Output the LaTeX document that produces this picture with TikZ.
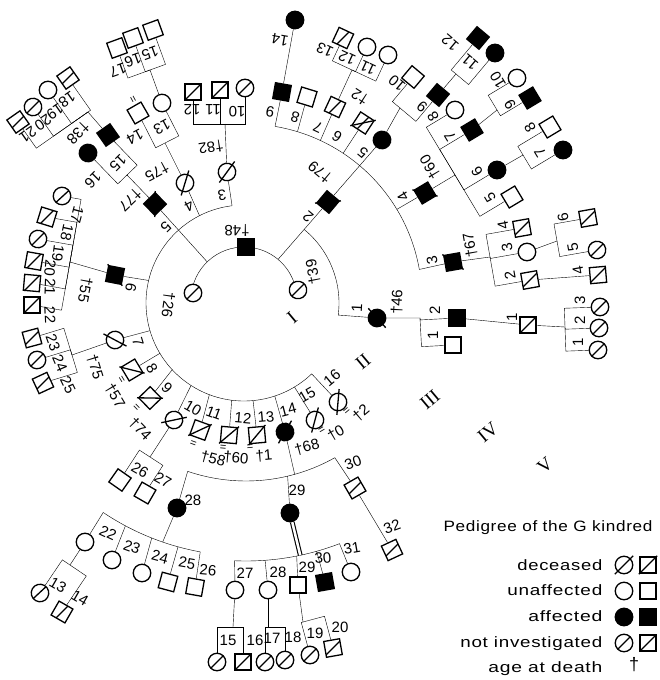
\documentclass[tikz,border=0pt]{standalone}
\usepackage{fontspec}
\usepackage{graphicx}
\setmainfont{Liberation Sans}
\newfontfamily\romfont{Liberation Serif}
\newfontfamily\legfont[LetterSpace=4]{Liberation Sans}
\usetikzlibrary{calc,backgrounds}
\begin{document}
\begin{tikzpicture}[x=1pt,y=1pt,line width=1.3pt]
\useasboundingbox (0,0) rectangle (659,-680);
\tikzset{
 sy/.style={draw, inner sep=0pt, fill=white, line width=1.3pt},
 sq/.style={sy, rectangle, minimum size=16pt},
 ci/.style={sy, circle, minimum size=17.5pt},
 aff/.style={fill=black},
 ni/.style={path picture={\draw[line width=1.3pt] (path picture bounding box.south west) -- (path picture bounding box.north east);}},
 lab/.style={font=\fontsize{15}{15}\selectfont, inner sep=0pt},
 mk/.style={font=\fontsize{11}{11}\selectfont, inner sep=0pt},
 rom/.style={font=\romfont\fontsize{19}{19}\selectfont, inner sep=0pt, rotate=40},
 leg/.style={inner sep=0pt},
}
\newcommand\legtext[2]{\resizebox{#1pt}{\height}{\legfont\fontsize{15}{15}\selectfont #2}}
\newcommand\dec[2]{\draw ($(#1)+({#2+45}:13)$) -- ($(#1)+({#2+225}:13)$);}
\newcommand\sib[3]{%
  \coordinate (sibA) at #1;
  \coordinate (sibB) at ($#1+(#2:10)$);
  \foreach \ch in {#3}{\draw (sibA) -- ($(sibA)!(\ch)!(sibB)$) -- (\ch);}}
\coordinate (O) at (246,-300);
\coordinate (OL) at (244,-303);
\coordinate (OI) at (244,-300);
% ---------- generation I
\node[sq,aff,rotate=180] (a48) at (246,-247) {};
\node[ci,ni,rotate=295] (a26) at (193,-293) {};
\node[ci,ni,rotate=101] (a39) at (298,-290) {};
% ---------- generation II
\node[ci,rotate=189] (b3) at (227,-172) {};
\node[ci,rotate=208] (b4) at (185,-183) {};
\node[sq,aff,rotate=224] (b5) at (155,-204) {};
\node[sq,aff,rotate=259] (b6) at (115,-275) {};
\node[ci,rotate=287] (b7) at (115,-340) {};
\node[sq,rotate=301] (b8) at (132,-370) {};
\node[sq,rotate=314] (b9) at (150,-398) {};
\node[ci,rotate=327] (b10) at (174,-420) {};
\node[sq,rotate=340] (b11) at (200,-430) {};
\node[sq,rotate=355] (b12) at (229,-435) {};
\node[sq,rotate=5] (b13) at (257,-435) {};
\node[ci,aff,rotate=15] (b14) at (285,-432) {};
\node[ci,rotate=30] (b15) at (315,-420) {};
\node[ci,rotate=40] (b16) at (338,-402) {};
\node[sq,aff,rotate=140] (b2) at (328,-202) {};
\node[ci,aff,rotate=87] (b1) at (377,-318) {};
% ---------- generation III
\node[sq,aff,rotate=170] (c9) at (282,-92) {};
\node[sq,rotate=163] (c8) at (307,-97) {};
\node[sq,ni,rotate=155] (c7) at (335,-107) {};
\node[sq,ni,rotate=147] (c6) at (363,-123) {};
\node[ci,aff,rotate=140] (c5) at (382,-140) {};
\node[sq,aff,rotate=121] (c4) at (425,-193) {};
\node[sq,aff,rotate=100] (c3) at (453,-262) {};
\node[sq,aff,rotate=90] (c2) at (457,-318) {};
\node[sq,rotate=90] (c1) at (453,-345) {};
\node[ci,ni,rotate=180] (c10) at (245,-88) {};
\node[sq,ni,rotate=180] (c11) at (220,-90) {};
\node[sq,ni,rotate=180] (c12) at (193,-92) {};
\node[ci,rotate=205] (c13) at (162,-103) {};
\node[sq,rotate=210] (c14) at (138,-113) {};
\node[sq,aff,rotate=215] (c15) at (108,-135) {};
\node[ci,aff,rotate=230] (c16) at (88,-153) {};
\node[ci,ni,rotate=250] (c17) at (62,-196) {};
\node[sq,ni,rotate=253] (c18) at (47,-217) {};
\node[ci,ni,rotate=256] (c19) at (38,-239) {};
\node[sq,ni,rotate=260] (c20) at (34,-261) {};
\node[sq,ni,rotate=265] (c21) at (32,-283) {};
\node[sq,ni,rotate=270] (c22) at (32,-305) {};
\node[sq,ni,rotate=285] (c23) at (32,-338) {};
\node[ci,ni,rotate=290] (c24) at (37,-360) {};
\node[sq,ni,rotate=295] (c25) at (43,-383) {};
\node[sq,rotate=325] (c26) at (120,-480) {};
\node[sq,rotate=330] (c27) at (145,-493) {};
\node[ci,aff] (c28) at (177,-508) {};
\node[ci,aff] (c29) at (290,-513) {};
\node[sq,ni,rotate=30] (c30) at (355,-488) {};
% ---------- generation IV
\node[ci,aff] (d14) at (295,-20) {};
\node[sq,ni,rotate=155] (d13) at (343,-38) {};
\node[ci] (d12) at (367,-47) {};
\node[ci] (d11) at (388,-55) {};
\node[sq,rotate=140] (d10) at (413,-77) {};
\node[sq,aff,rotate=140] (d9) at (438,-95) {};
\node[ci] (d8) at (455,-110) {};
\node[sq,aff,rotate=121] (d7) at (472,-130) {};
\node[ci,aff] (d6) at (497,-170) {};
\node[sq,rotate=121] (d5) at (512,-197) {};
\node[sq,ni,rotate=100] (d4) at (522,-228) {};
\node[ci] (d3) at (527,-252) {};
\node[sq,ni,rotate=100] (d2) at (530,-280) {};
\node[sq,ni,rotate=90] (d1) at (528,-325) {};
\node[sq,rotate=200] (d15) at (153,-30) {};
\node[sq,rotate=200] (d16) at (133,-38) {};
\node[sq,rotate=200] (d17) at (117,-48) {};
\node[sq,ni,rotate=215] (d18) at (68,-78) {};
\node[ci] (d19) at (48,-90) {};
\node[ci,ni,rotate=215] (d20) at (33,-107) {};
\node[sq,ni,rotate=215] (d21) at (18,-122) {};
\node[ci] (d22) at (85,-542) {};
\node[ci] (d23) at (112,-560) {};
\node[ci] (d24) at (142,-573) {};
\node[sq,rotate=345] (d25) at (168,-582) {};
\node[sq,rotate=350] (d26) at (195,-587) {};
\node[ci] (d27) at (235,-590) {};
\node[ci] (d28) at (268,-590) {};
\node[sq] (d29) at (298,-585) {};
\node[sq,aff,rotate=10] (d30) at (325,-582) {};
\node[ci] (d31) at (351,-572) {};
\node[sq,ni,rotate=25] (d32) at (392,-550) {};
% ---------- generation V
\node[sq,aff,rotate=140] (e12) at (478,-38) {};
\node[ci,aff] (e11) at (495,-53) {};
\node[ci] (e10) at (517,-78) {};
\node[sq,aff,rotate=121] (e9) at (530,-98) {};
\node[sq,rotate=121] (e8) at (550,-127) {};
\node[ci,aff] (e7) at (563,-150) {};
\node[sq,ni,rotate=100] (e6) at (588,-218) {};
\node[ci,ni,rotate=100] (e5) at (597,-250) {};
\node[sq,ni,rotate=95] (e4) at (598,-275) {};
\node[ci,ni,rotate=90] (e3) at (600,-307) {};
\node[ci,ni,rotate=90] (e2) at (599,-328) {};
\node[ci,ni,rotate=90] (e1) at (598,-350) {};
\node[ci,ni,rotate=330] (e13) at (40,-593) {};
\node[sq,ni,rotate=330] (e14) at (62,-612) {};
\node[ci,ni] (e15) at (217,-662) {};
\node[sq,ni] (e16) at (243,-662) {};
\node[ci,ni] (e17) at (265,-662) {};
\node[ci,ni] (e18) at (285,-660) {};
\node[ci,ni] (e19) at (310,-655) {};
\node[sq,ni,rotate=10] (e20) at (333,-648) {};
% ---------- connectors
\begin{scope}[on background layer]
\fill[white] (0,0) rectangle (659,-680);
\draw ($(OI)+(172:53)$) arc[start angle=172, end angle=11, radius=53];
\draw ($(OI)+(134:53)$) -- (b5);
\draw ($(OI)+(50:53)$) -- (b2);
\draw ($(OL)+(97:98)$) arc[start angle=97, end angle=313.7, radius=98] -- (b16);
\draw ($(OL)+(97:98)$) -- (b3);
\draw ($(OL)+(117:98)$) -- (b4);
\draw ($(OL)+(166.7:98)$) -- (b6);
\draw ($(OL)+(196.4:98)$) -- (b7);
\draw ($(OL)+(210.9:98)$) -- (b8);
\draw ($(OL)+(222.9:98)$) -- (b9);
\draw ($(OL)+(237.3:98)$) -- (b10);
\draw ($(OL)+(249.3:98)$) -- (b11);
\draw ($(OL)+(262.8:98)$) -- (b12);
\draw ($(OL)+(275.3:98)$) -- (b13);
\draw ($(OL)+(288.3:98)$) -- (b14);
\draw ($(OL)+(301:98)$) -- (b15);
\draw ($(OL)+(50.8:95)$) arc[start angle=50.8, end angle=-7.3, radius=95] -- (b1);
% gen III of 2
\draw ($(O)+(80.5:176)$) arc[start angle=80.5, end angle=10, radius=176] -- (c3);
\draw ($(O)+(80.5:176)$) -- (c9);
\draw ($(O)+(73:176)$) -- (c8);
\draw ($(O)+(65:176)$) -- (c7);
\draw ($(O)+(56.5:176)$) -- (c6);
\draw ($(O)+(31:176)$) -- (c4);
\draw (b2) -- (c5);
\draw (c9) -- (d14);
\draw (c7) -- (352,-70); \sib{(352,-70)}{-25}{d13,d12,d11}
\draw (c5) -- (400,-108); \sib{(400,-108)}{-40}{d10,d9}
\draw (d9) -- (456,-74); \sib{(456,-74)}{-40}{e12,e11}
\draw (c4) -- (455,-175); \sib{(455,-175)}{-59}{d8,d7,d6,d5}
\draw (d7) -- (497,-110); \sib{(497,-110)}{-59}{e10,e9}
\draw (d6) -- (523,-155); \sib{(523,-155)}{-59}{e8,e7}
\draw (c3) -- (490,-257); \sib{(490,-257)}{-80}{d4,d3,d2}
\draw (d3) -- (557,-241); \sib{(557,-241)}{-80}{e6,e5}
\draw (d2) -- (e4);
% gen III of 1
\draw (b1) -- (420,-318); \sib{(420,-318)}{-87}{c2,c1}
\draw (c2) -- (d1);
\draw (d1) -- (565,-327); \sib{(565,-327)}{-88}{e3,e2,e1}
% left side
\draw (b3) -- (225,-124); \sib{(225,-124)}{0}{c12,c11,c10}
\draw (b4) -- (165,-143); \sib{(165,-143)}{27}{c13,c14}
\draw (c13) -- (150,-70); \sib{(150,-70)}{20}{d15,d16,d17}
\draw (b5) -- (127,-175); \sib{(127,-175)}{44}{c15,c16}
\draw (c15) -- (88,-112); \sib{(88,-112)}{35}{d18,d19,d20,d21}
\draw (b6) -- (70,-262); \sib{(70,-262)}{80}{c17,c18,c19,c20,c21,c22}
\draw (b7) -- (72,-355); \sib{(72,-355)}{107}{c23,c24,c25}
\draw (b10) -- (150,-457); \sib{(150,-457)}{147}{c26,c27}
% gen III of 14
\draw ($(O)+(251.2:181)$) arc[start angle=251.2, end angle=299.4, radius=181] -- (c30);
\draw ($(O)+(251.2:181)$) -- (c28);
\draw ($(O)+(283.3:181)$) -- (c29);
\draw (b14) -- ($(O)+(285.6:181)$);
\draw (c30) -- (d32);
% gen IV of 28
\draw ($(O)+(236.1:256)$) arc[start angle=236.1, end angle=259.7, radius=256] -- (d26);
\draw (c28) -- ($(O)+(251:256)$);
\draw ($(O)+(236.1:256)$) -- (d22);
\draw ($(O)+(241.9:256)$) -- (d23);
\draw ($(O)+(248.4:256)$) -- (d24);
\draw ($(O)+(254.6:256)$) -- (d25);
\draw (d22) -- (70,-565); \sib{(70,-565)}{146}{e13,e14}
% gen IV of 29
\draw ($(O)+(267.5:261)$) arc[start angle=267.5, end angle=291, radius=261] -- (d31);
\draw[double, double distance=2.5pt, line width=1.1pt] (c29) -- ($(O)+(282:261)$);
\draw ($(O)+(267.5:261)$) -- (d27);
\draw ($(O)+(274.2:261)$) -- (d28);
\draw ($(O)+(281.2:261)$) -- (d29);
\draw ($(O)+(285.7:261)$) -- (d30);
\draw (d27) -- (233,-627); \sib{(233,-627)}{0}{e15,e16}
\draw (d28) -- (268,-627); \sib{(268,-627)}{0}{e17,e18}
\draw (d29) -- (303,-622); \sib{(303,-622)}{15}{e19,e20}
\end{scope}
% ---------- deceased slashes
\dec{b3}{189} \dec{b4}{208} \dec{b5}{224} \dec{b6}{259} \dec{b7}{287}
\dec{b8}{301} \dec{b9}{314} \dec{b10}{327} \dec{b11}{340} \dec{b12}{355}
\dec{b13}{5} \dec{b14}{15} \dec{b15}{30} \dec{b16}{40} \dec{b2}{140} \dec{b1}{87}
\dec{c6}{147} \dec{c4}{121} \dec{c3}{100}
% ---------- labels
\node[lab,rotate=180] at (237,-230) {†48};
\node[lab,rotate=262] at (168,-305) {†26};
\node[lab,rotate=101] at (313,-272) {†39};
\node[lab,rotate=189] at (222,-195) {3};
\node[lab,rotate=189] at (211,-147) {†82};
\node[lab,rotate=208] at (189,-206) {4};
\node[lab,rotate=208] at (157,-172) {†75};
\node[lab,rotate=224] at (166,-227) {5};
\node[lab,rotate=224] at (130,-200) {†77};
\node[lab,rotate=259] at (131,-288) {6};
\node[lab,rotate=259] at (85,-290) {†55};
\node[lab,rotate=287] at (138,-342) {7};
\node[lab,rotate=287] at (95,-367) {†75};
\node[lab,rotate=301] at (152,-368) {8};
\node[mk,rotate=301] at (121,-380) {=};
\node[lab,rotate=301] at (115,-396) {†57};
\node[lab,rotate=314] at (167,-388) {9};
\node[mk,rotate=314] at (136,-408) {=};
\node[lab,rotate=314] at (140,-429) {†74};
\node[lab,rotate=330] at (193,-408) {10};
\node[lab,rotate=340] at (214,-413) {11};
\node[mk,rotate=340] at (193,-444) {=};
\node[lab,rotate=345] at (213,-459) {†58};
\node[lab,rotate=355] at (243,-418) {12};
\node[mk,rotate=355] at (223,-448) {=};
\node[lab,rotate=355] at (236,-458) {†60};
\node[lab,rotate=5] at (266,-417) {13};
\node[mk,rotate=5] at (250,-448) {=};
\node[lab,rotate=5] at (264,-456) {†1};
\node[lab,rotate=15] at (288,-410) {14};
\node[lab,rotate=15] at (307,-447) {†68};
\node[lab,rotate=30] at (307,-395) {15};
\node[mk,rotate=30] at (322,-431) {=};
\node[lab,rotate=30] at (336,-433) {†0};
\node[lab,rotate=40] at (332,-378) {16};
\node[mk,rotate=40] at (347,-411) {=};
\node[lab,rotate=40] at (361,-413) {†2};
\node[lab,rotate=140] at (308,-217) {2};
\node[lab,rotate=140] at (320,-172) {†79};
\node[lab,rotate=87] at (357,-308) {1};
\node[lab,rotate=87] at (397,-302) {†46};
% gen III labels (2)
\node[lab,rotate=170] at (270,-112) {9};
\node[lab,rotate=163] at (295,-117) {8};
\node[lab,rotate=155] at (318,-127) {7};
\node[lab,rotate=147] at (337,-137) {6};
\node[lab,rotate=147] at (360,-97) {†2};
\node[lab,rotate=140] at (363,-153) {5};
\node[lab,rotate=121] at (403,-197) {4};
\node[lab,rotate=121] at (430,-167) {†60};
\node[lab,rotate=100] at (432,-260) {3};
\node[lab,rotate=100] at (470,-245) {†67};
\node[lab,rotate=170] at (280,-40) {14};
\node[lab,rotate=155] at (325,-50) {13};
\node[lab,rotate=155] at (347,-58) {12};
\node[lab,rotate=155] at (368,-68) {11};
\node[lab,rotate=140] at (397,-83) {10};
\node[lab,rotate=140] at (422,-107) {9};
\node[lab,rotate=140] at (450,-43) {12};
\node[lab,rotate=140] at (470,-62) {11};
\node[lab,rotate=121] at (433,-117) {8};
\node[lab,rotate=121] at (450,-137) {7};
\node[lab,rotate=121] at (477,-172) {6};
\node[lab,rotate=121] at (490,-198) {5};
\node[lab,rotate=121] at (498,-80) {10};
\node[lab,rotate=121] at (510,-105) {9};
\node[lab,rotate=121] at (530,-128) {8};
\node[lab,rotate=121] at (540,-153) {7};
\node[lab,rotate=100] at (503,-225) {4};
\node[lab,rotate=100] at (507,-247) {3};
\node[lab,rotate=100] at (510,-275) {2};
\node[lab,rotate=100] at (563,-217) {6};
\node[lab,rotate=100] at (573,-247) {5};
\node[lab,rotate=100] at (578,-270) {4};
\node[lab,rotate=90] at (435,-310) {2};
\node[lab,rotate=90] at (433,-335) {1};
\node[lab,rotate=90] at (512,-317) {1};
\node[lab,rotate=90] at (580,-300) {3};
\node[lab,rotate=90] at (580,-320) {2};
\node[lab,rotate=90] at (578,-342) {1};
% left labels
\node[lab,rotate=225] at (118,-163) {15};
\node[lab,rotate=225] at (93,-180) {16};
\node[lab,rotate=225] at (78,-133) {†38};
\node[lab,rotate=215] at (67,-100) {18};
\node[lab,rotate=215] at (55,-112) {19};
\node[lab,rotate=215] at (43,-123) {20};
\node[lab,rotate=215] at (28,-135) {21};
\node[lab,rotate=208] at (162,-127) {13};
\node[lab,rotate=208] at (135,-137) {14};
\node[mk,rotate=118] at (134,-99) {=};
\node[lab,rotate=200] at (150,-53) {15};
\node[lab,rotate=200] at (133,-60) {16};
\node[lab,rotate=200] at (118,-70) {17};
\node[lab,rotate=180] at (192,-110) {12};
\node[lab,rotate=180] at (213,-110) {11};
\node[lab,rotate=180] at (237,-112) {10};
\node[lab,rotate=255] at (77,-215) {17};
\node[lab,rotate=258] at (67,-233) {18};
\node[lab,rotate=262] at (58,-253) {19};
\node[lab,rotate=265] at (50,-268) {20};
\node[lab,rotate=268] at (50,-287) {21};
\node[lab,rotate=272] at (50,-315) {22};
\node[lab,rotate=290] at (53,-343) {23};
\node[lab,rotate=293] at (60,-363) {24};
\node[lab,rotate=296] at (68,-385) {25};
\node[lab,rotate=330] at (140,-470) {26};
\node[lab,rotate=330] at (163,-480) {27};
\node[lab] at (193,-500) {28};
\node[lab] at (297,-490) {29};
\node[lab,rotate=20] at (353,-463) {30};
\node[lab,rotate=20] at (392,-527) {32};
\node[lab,rotate=335] at (108,-533) {22};
\node[lab,rotate=340] at (132,-547) {23};
\node[lab,rotate=345] at (160,-557) {24};
\node[lab,rotate=350] at (187,-563) {25};
\node[lab,rotate=355] at (208,-570) {26};
\node[lab] at (245,-573) {27};
\node[lab] at (278,-572) {28};
\node[lab] at (307,-567) {29};
\node[lab,rotate=5] at (323,-558) {30};
\node[lab,rotate=10] at (352,-548) {31};
\node[lab,rotate=330] at (58,-585) {13};
\node[lab,rotate=330] at (80,-598) {14};
\node[lab] at (228,-640) {15};
\node[lab] at (255,-640) {16};
\node[lab] at (272,-638) {17};
\node[lab] at (293,-637) {18};
\node[lab] at (315,-633) {19};
\node[lab] at (340,-627) {20};
% generation numerals
\node[rom] at (292,-318) {I};
\node[rom] at (363,-362) {II};
\node[rom] at (430,-400) {III};
\node[rom] at (488,-432) {IV};
\node[rom] at (545,-465) {V};
% ---------- legend
\node[leg,anchor=base] at (548,-531) {\legtext{209}{Pedigree of the G kindred}};
\node[leg,anchor=base east] at (603,-570) {\legtext{85}{deceased}};
\node[leg,anchor=base east] at (603,-595) {\legtext{95}{unaffected}};
\node[leg,anchor=base east] at (603,-621) {\legtext{74}{affected}};
\node[leg,anchor=base east] at (603,-647) {\legtext{142}{not investigated}};
\node[leg,anchor=base east] at (603,-672) {\legtext{114}{age at death}};
\node[ci] (l1) at (624,-565) {}; \dec{l1}{0}
\node[sq] (l2) at (648,-565) {}; \dec{l2}{0}
\node[ci] (l3) at (624,-591) {};
\node[sq] (l4) at (648,-591) {};
\node[ci,aff] (l5) at (624,-617) {};
\node[sq,aff] (l6) at (648,-617) {};
\node[ci,ni] (l7) at (624,-643) {};
\node[sq,ni] (l8) at (648,-643) {};
\node[inner sep=0pt, font=\fontsize{18}{18}\selectfont] (l9) at (634,-665) {†};
\end{tikzpicture}
\end{document}
